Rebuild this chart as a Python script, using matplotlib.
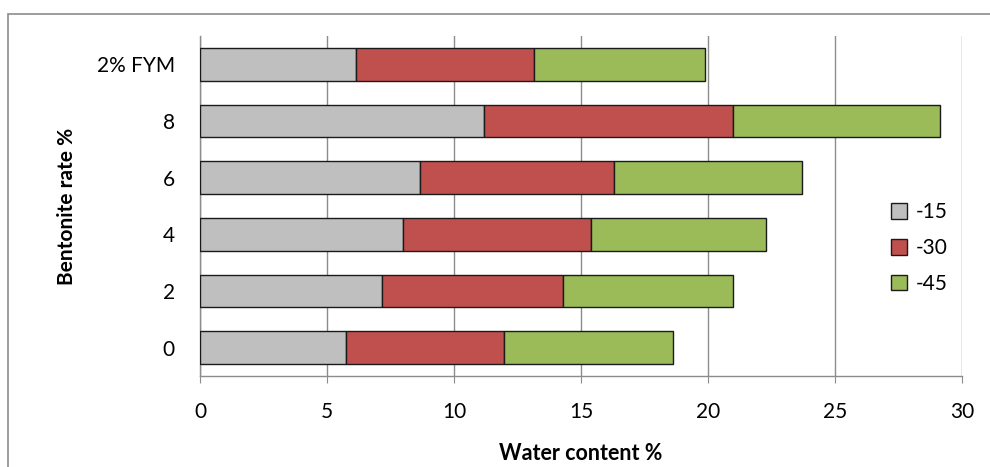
import numpy as np
import matplotlib.pyplot as plt
from matplotlib.patches import Rectangle

plt.rcParams['font.family'] = ['Lato', 'DejaVu Sans']

categories = ['0', '2', '4', '6', '8', '2% FYM']
# cumulative water content at each suction level
cum_15 = [5.75, 7.15, 8.0, 8.67, 11.2, 6.13]
cum_30 = [11.98, 14.3, 15.4, 16.3, 21.0, 13.15]
cum_45 = [18.62, 21.0, 22.3, 23.7, 29.14, 19.88]
series_names = ['-15', '-30', '-45']
colors = ['#BFBFBF', '#C0504D', '#9BBB59']

seg_15 = np.array(cum_15)
seg_30 = np.array(cum_30) - np.array(cum_15)
seg_45 = np.array(cum_45) - np.array(cum_30)

fig = plt.figure(figsize=(9.9, 4.67), dpi=100)
ax = fig.add_axes([0.202, 0.195, 0.7697, 0.728])

# outer chart frame
fig.patches.append(Rectangle((8 / 990, -0.05), 1.2, 1 - 14 / 467 + 0.05,
                             transform=fig.transFigure, fill=False,
                             edgecolor='#8c8c8c', linewidth=1.2))

y = np.arange(len(categories))
left = np.zeros(len(categories))
for seg, name, c in zip([seg_15, seg_30, seg_45], series_names, colors):
    ax.barh(y, seg, left=left, height=0.58, color=c, edgecolor='#1a1a1a',
            linewidth=1.0, label=name, zorder=3)
    left = left + seg

ax.set_xlim(0, 30)
ax.set_ylim(-0.5, len(categories) - 0.5)
ax.set_xticks(np.arange(0, 31, 5))
ax.set_yticks(y)
ax.set_yticklabels(categories)
ax.grid(axis='x', color='#8c8c8c', linewidth=1.0, zorder=0)

for s in ['top', 'right']:
    ax.spines[s].set_visible(False)
for s in ['left', 'bottom']:
    ax.spines[s].set_color('#8c8c8c')
    ax.spines[s].set_linewidth(1.0)

ax.tick_params(axis='x', length=5, color='#8c8c8c', pad=14, labelsize=15)
ax.tick_params(axis='y', length=0, pad=18, labelsize=15)

ax.set_xlabel('Water content %', fontsize=15.5, fontweight='bold', labelpad=15)
ax.set_ylabel('Bentonite rate %', fontsize=15, fontweight='bold', labelpad=14)

ax.legend(loc='center left', bbox_to_anchor=(0.882, 0.376), frameon=False,
          fontsize=15, handlelength=0.8, handleheight=0.8, handletextpad=0.4,
          labelspacing=0.75)

fig.savefig('out.png', dpi=100)
